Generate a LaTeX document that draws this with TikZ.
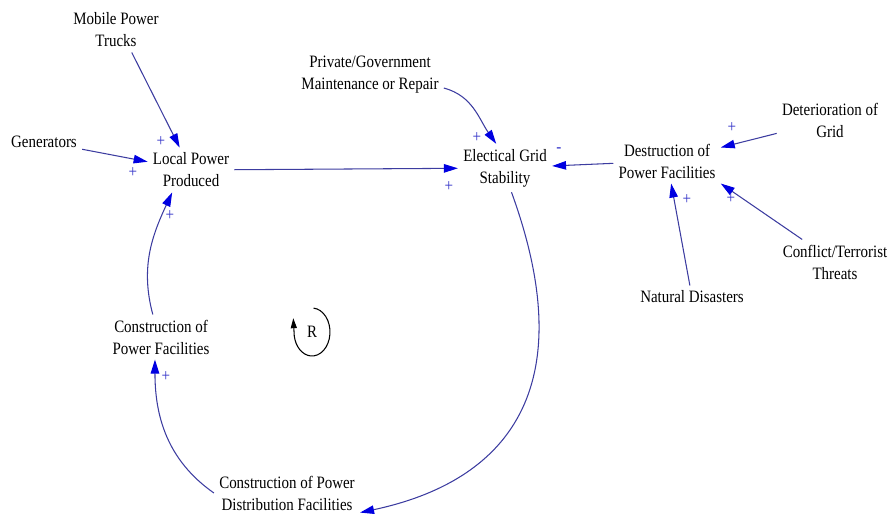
\documentclass[tikz,border=0pt]{standalone}
\usepackage{fontspec}
\setmainfont{Liberation Serif}[FakeStretch=0.86]
\usetikzlibrary{arrows.meta}
\definecolor{linkblue}{RGB}{60,60,160}
\definecolor{tipblue}{RGB}{0,0,225}
\definecolor{polblue}{RGB}{50,50,200}
\tikzset{
  var/.style={align=center, inner sep=0.1cm, font=\fontsize{9.9}{12.5}\selectfont},
  link/.style={line width=0.6pt, draw=linkblue, -{Triangle[length=0.28cm,width=0.17cm,color=tipblue]}},
  pol/.style={text=polblue, inner sep=0pt, font=\fontsize{10}{10}\selectfont},
}
\begin{document}
\begin{tikzpicture}[x=0.02cm, y=0.02cm]
\useasboundingbox (0,0) rectangle (889,525);

% Drawing the variables
\node[var] (mob) at (116,495) {Mobile Power\\Trucks};
\node[var] (gen) at (44,383) {Generators};
\node[var] (loc) at (191,355) {Local Power\\Produced};
\node[var] (priv) at (370,450) {Private/Government\\Maintenance or Repair};
\node[var] (grid) at (505,357) {Electical Grid\\Stability};
\node[var] (destr) at (667,364) {Destruction of\\Power Facilities};
\node[var] (deter) at (830,405) {Deterioration of\\Grid};
\node[var] (conf) at (835,263) {Conflict/Terrorist\\Threats};
\node[var] (nat) at (692,228) {Natural Disasters};
\node[var] (cpf) at (161,188) {Construction of\\Power Facilities};
\node[var] (cdist) at (287,32) {Construction of Power\\Distribution Facilities};

% Drawing links into local power
\draw[link] (mob.-55) -- (loc);
\draw[link] (gen) -- (loc);
\draw[link] (cpf.110) to[out=105,in=-115] (loc.-130);

% Drawing links into grid stability
\draw[link] (loc) -- (grid);
\draw[link] (priv.-10) to[out=-15,in=125] (grid.110);
\draw[link] (destr) -- (grid);

% Drawing links into destruction
\draw[link] (deter) -- (destr);
\draw[link] (conf) -- (destr.south east);
\draw[link] (nat) -- (destr);

% Drawing the loop back
\draw[link] (grid.-75) .. controls +(-70:210) and +(12:150) .. (cdist.-15);
\draw[link] (cdist.west) to[out=145,in=-90] (cpf.-105);

% Marking the polarities
\node[pol] (pMob) at (161,383) {+};
\node[pol] (pGen) at (133,352) {+};
\node[pol] (pCpf) at (170,309) {+};
\node[pol] (pLoc) at (449,338) {+};
\node[pol] (pPriv) at (477,387) {+};
\node[pol] (mDestr) at (559,375) {-};
\node[pol] (pDeter) at (732,397) {+};
\node[pol] (pConf) at (731,326) {+};
\node[pol] (pNat) at (687,325) {+};
\node[pol] (pCdist) at (166,148) {+};

% Marking the loop R
\node[var] (R) at (312,193) {R};
\draw[line width=0.6pt, -{Triangle[length=0.2cm,width=0.12cm]}] ([shift={(85:0.36cm and 0.48cm)}]R.center) arc[start angle=85, end angle=-170, x radius=0.36cm, y radius=0.48cm] -- ++(-1,18);
\end{tikzpicture}
\end{document}
